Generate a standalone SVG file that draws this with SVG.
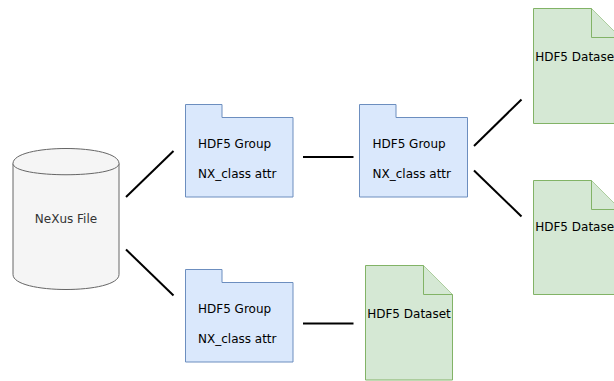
<svg xmlns="http://www.w3.org/2000/svg" width="614" height="381" viewBox="0 0 614 381">
<style>
  .folder { fill: #dae8fc; stroke: #6c8ebf; stroke-width: 1; }
  .data { fill: #d5e8d4; stroke: #82b366; stroke-width: 1; }
  .cyl { fill: #f5f5f5; stroke: #666666; stroke-width: 1; }
  .conn { stroke: #000000; stroke-width: 2; fill: none; }
  text { font-family: "DejaVu Sans", "Liberation Sans", sans-serif; font-size: 12px; fill: #000000; }
  .mid { text-anchor: middle; }
</style>
<rect width="614" height="381" fill="#ffffff"/>
<g id="connectors">
  <line class="conn" x1="126" y1="197" x2="173.5" y2="151"/>
  <line class="conn" x1="126" y1="249.5" x2="173.5" y2="295.5"/>
  <line class="conn" x1="303" y1="157" x2="353.5" y2="157"/>
  <line class="conn" x1="303" y1="323.5" x2="353.5" y2="323.5"/>
  <line class="conn" x1="474" y1="146" x2="521.5" y2="99.5"/>
  <line class="conn" x1="474" y1="170.5" x2="521.5" y2="216.5"/>
</g>
<g id="nexus-file">
  <path class="cyl" d="M13,163.5 C13,143.5 119,143.5 119,163.5 L119,274.5 C119,294.5 13,294.5 13,274.5 Z"/>
  <path class="cyl" fill="none" d="M13,163.5 C13,178.5 119,178.5 119,163.5"/>
  <text class="mid" x="66" y="223" fill="#333333" style="fill:#333333">NeXus File</text>
</g>
<g id="group-1">
  <path class="folder" d="M185.5,104.5 H222 V117.5 H293 V197 H185.5 Z"/>
  <text x="198" y="147.5">HDF5 Group</text>
  <text x="198" y="177.5">NX_class attr</text>
</g>
<g id="group-2">
  <path class="folder" d="M359.5,104.5 H396 V117.5 H467.5 V197 H359.5 Z"/>
  <text x="372.5" y="147.5">HDF5 Group</text>
  <text x="372.5" y="177.5">NX_class attr</text>
</g>
<g id="group-3">
  <path class="folder" d="M185.5,269.5 H222 V282.5 H293 V362 H185.5 Z"/>
  <text x="198" y="312.5">HDF5 Group</text>
  <text x="198" y="342.5">NX_class attr</text>
</g>
<g id="dataset-1">
  <path class="data" d="M533.5,8.5 H591.5 L620.5,37.5 V123.5 H533.5 Z"/>
  <path class="data" fill="none" d="M591.5,8.5 V37.5 H620.5"/>
  <text class="mid" x="577" y="61">HDF5 Dataset</text>
</g>
<g id="dataset-2">
  <path class="data" d="M533.5,180.5 H591.5 L620.5,209.5 V294.5 H533.5 Z"/>
  <path class="data" fill="none" d="M591.5,180.5 V209.5 H620.5"/>
  <text class="mid" x="577" y="231">HDF5 Dataset</text>
</g>
<g id="dataset-3">
  <path class="data" d="M365.5,265.5 H423.5 L452.5,294.5 V380 H365.5 Z"/>
  <path class="data" fill="none" d="M423.5,265.5 V294.5 H452.5"/>
  <text class="mid" x="409" y="317.5">HDF5 Dataset</text>
</g>
</svg>
